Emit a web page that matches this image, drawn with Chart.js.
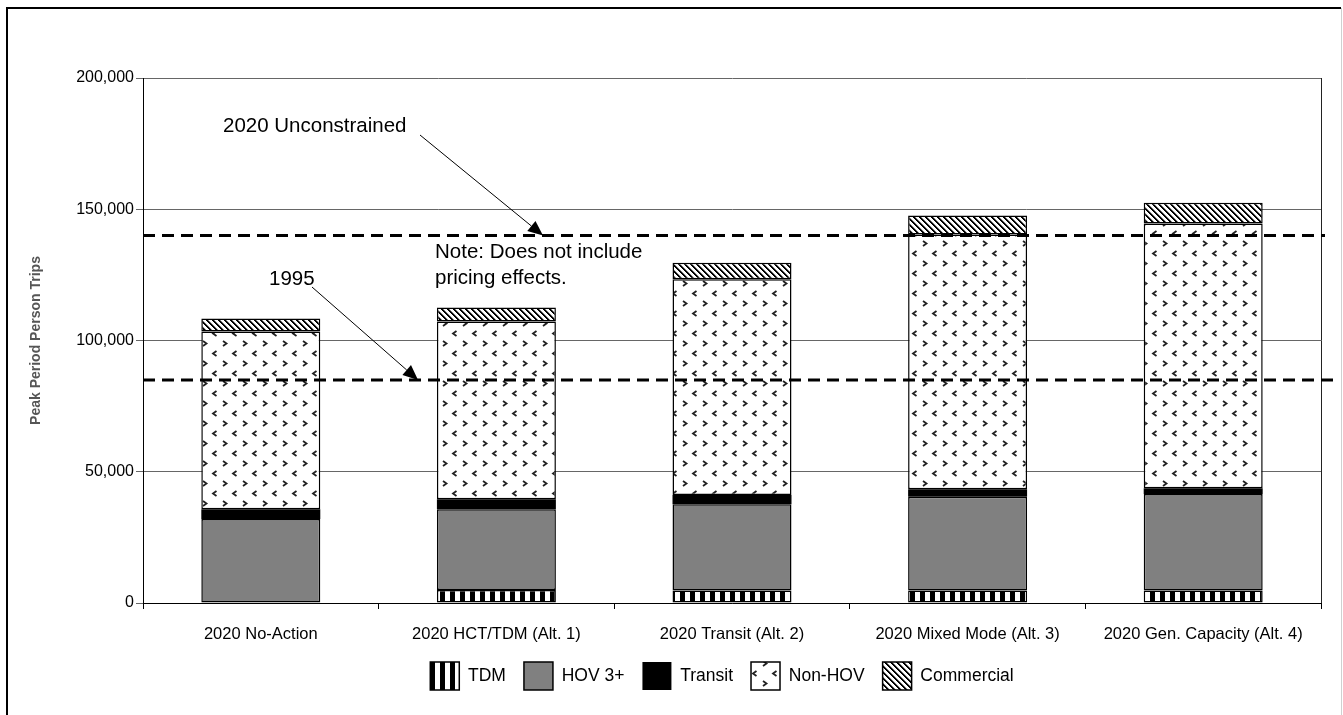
<!DOCTYPE html>
<html>
<head>
<meta charset="utf-8">
<script src="https://cdn.jsdelivr.net/npm/chart.js@4.4.1/dist/chart.umd.min.js"></script>
<style>
  html, body { margin: 0; padding: 0; background: #fff; }
  #wrap { position: relative; width: 1343px; height: 715px; }
</style>
</head>
<body>
<div id="wrap"><canvas id="c" width="1343" height="715"></canvas></div>
<script>
// Peak period person trips by alternative, stacked by mode
const categories = ['2020 No-Action', '2020 HCT/TDM (Alt. 1)', '2020 Transit (Alt. 2)', '2020 Mixed Mode (Alt. 3)', '2020 Gen. Capacity (Alt. 4)'];
const tdm        = [0, 5000, 4800, 4800, 4800];
const hov3       = [32000, 30700, 32800, 35700, 36700];
const transit    = [3700, 3800, 3500, 2800, 2200];
const nonHov     = [67700, 67700, 82200, 97100, 100900];
const commercial = [5000, 5400, 6300, 7200, 7900];
const yTicks     = [0, 50000, 100000, 150000, 200000];

// Reference levels shown as dashed lines
const refNames  = ['2020 Unconstrained', '1995'];
const refLevels = [140000, 85000];
const noteLines = ['Note: Does not include', 'pricing effects.'];

const FONT = "'Liberation Sans', Arial, sans-serif";
const canvas = document.getElementById('c');
const ctx = canvas.getContext('2d');

function tile(w, h, paint) {
  const t = document.createElement('canvas');
  t.width = w; t.height = h;
  const g = t.getContext('2d');
  g.fillStyle = '#fff';
  g.fillRect(0, 0, w, h);
  paint(g);
  return ctx.createPattern(t, 'repeat');
}

// vertical black/white stripes
const tdmFill = tile(10, 10, g => { g.fillStyle = '#000'; g.fillRect(0, 0, 5, 10); });
// scattered small chevrons on white
const nonHovFill = tile(20, 20, g => {
  g.strokeStyle = '#222';
  g.lineWidth = 1.8;
  g.lineJoin = 'miter';
  g.beginPath(); g.moveTo(3, 1); g.lineTo(6.5, 3.5); g.lineTo(3, 6); g.stroke();
  g.beginPath(); g.moveTo(16.5, 11); g.lineTo(13, 13.5); g.lineTo(16.5, 16); g.stroke();
});
// diagonal hatch
const commercialFill = tile(6, 6, g => {
  for (let y = 0; y < 6; y++) {
    g.fillStyle = '#000';
    g.fillRect(y % 6, y, 1, 1);
    g.fillRect((y + 1) % 6, y, 1, 1);
    g.fillStyle = '#888';
    g.fillRect((y + 2) % 6, y, 1, 1);
  }
});

function series(label, data, fill, border) {
  return {
    label, data,
    backgroundColor: fill,
    borderColor: '#000',
    borderWidth: border,
    borderSkipped: false,
    barPercentage: 0.505,
    categoryPercentage: 1.0
  };
}

// nudges the legend row so it sits a little left of the plot centre
const legendNudge = {
  id: 'legendNudge',
  afterLayout(chart) {
    if (chart.legend) chart.legend.left -= 20;
  }
};

const overlay = {
  id: 'overlay',
  afterDatasetsDraw(chart) {
    const { ctx, chartArea: a, scales: { y } } = chart;
    ctx.save();

    // plot-area right border
    ctx.strokeStyle = '#222';
    ctx.lineWidth = 1;
    ctx.beginPath();
    ctx.moveTo(Math.round(a.right) + 0.5, a.top);
    ctx.lineTo(Math.round(a.right) + 0.5, a.bottom);
    ctx.stroke();

    // dashed reference lines
    const ends = [a.right + 4, a.right + 16];
    const ys = refLevels.map(v => y.getPixelForValue(v));
    ctx.strokeStyle = '#000';
    ctx.lineWidth = 3;
    ctx.setLineDash([12, 7]);
    ys.forEach((py, i) => {
      ctx.beginPath();
      ctx.moveTo(a.left, py);
      ctx.lineTo(ends[i], py);
      ctx.stroke();
    });
    ctx.setLineDash([]);

    // callout arrows
    function arrow(x0, y0, x1, y1) {
      ctx.lineWidth = 1;
      ctx.strokeStyle = '#000';
      ctx.fillStyle = '#000';
      const ang = Math.atan2(y1 - y0, x1 - x0);
      const len = 15, half = 6.5;
      const bx = x1 - len * Math.cos(ang), by = y1 - len * Math.sin(ang);
      ctx.beginPath(); ctx.moveTo(x0, y0); ctx.lineTo(bx, by); ctx.stroke();
      ctx.beginPath();
      ctx.moveTo(x1, y1);
      ctx.lineTo(bx + half * Math.sin(ang), by - half * Math.cos(ang));
      ctx.lineTo(bx - half * Math.sin(ang), by + half * Math.cos(ang));
      ctx.closePath(); ctx.fill();
    }
    arrow(420, 135, 543, ys[0]);
    arrow(312, 287, 418, ys[1]);

    ctx.fillStyle = '#000';
    ctx.font = '20.5px ' + FONT;
    ctx.textBaseline = 'middle';
    ctx.textAlign = 'left';
    ctx.fillText(refNames[0], 223, 126);
    ctx.fillText(refNames[1], 269, 279);
    ctx.fillText(noteLines[0], 435, 252);
    ctx.fillText(noteLines[1], 435, 278);

    // outer frame
    ctx.strokeStyle = '#000';
    ctx.lineWidth = 2;
    ctx.beginPath();
    ctx.moveTo(7, 720); ctx.lineTo(7, 8); ctx.lineTo(1341, 8);
    ctx.stroke();
    ctx.strokeStyle = '#d0d0d0';
    ctx.lineWidth = 1;
    ctx.beginPath();
    ctx.moveTo(1341.5, 8); ctx.lineTo(1341.5, 720);
    ctx.stroke();

    ctx.restore();
  }
};

new Chart(ctx, {
  type: 'bar',
  data: {
    labels: categories,
    datasets: [
      series('TDM', tdm, tdmFill, 1.5),
      series('HOV 3+', hov3, '#808080', 1.5),
      series('Transit', transit, '#000', 0),
      series('Non-HOV', nonHov, nonHovFill, 1.5),
      series('Commercial', commercial, commercialFill, 1.5)
    ]
  },
  options: {
    responsive: false,
    animation: false,
    layout: { padding: { left: 0, right: 22, top: 78, bottom: 15 } },
    plugins: {
      tooltip: { enabled: false },
      title: { display: false },
      legend: {
        position: 'bottom',
        fullSize: false,
        labels: {
          boxWidth: 29, boxHeight: 28, padding: 18,
          color: '#000',
          font: { family: FONT, size: 17.5 }
        }
      }
    },
    scales: {
      x: {
        stacked: true,
        grid: { offset: true, drawOnChartArea: false, drawTicks: true, tickLength: 6, color: '#000' },
        border: { color: '#000', width: 1 },
        ticks: { color: '#000', font: { family: FONT, size: 16.5 }, padding: 16, maxRotation: 0, autoSkip: false },
        afterFit: s => { s.height = 41; }
      },
      y: {
        stacked: true,
        min: 0, max: 200000,
        afterBuildTicks: s => { s.ticks = yTicks.map(v => ({ value: v })); },
        ticks: {
          color: '#000',
          font: { family: FONT, size: 16 },
          padding: 2,
          callback: v => v.toLocaleString('en-US')
        },
        grid: { color: '#666', tickLength: 7, lineWidth: 1 },
        border: { color: '#000', width: 1 },
        title: {
          display: true,
          text: 'Peak Period Person Trips',
          color: '#555',
          font: { family: FONT, size: 14, weight: 'bold' },
          padding: { top: 28, bottom: 0 }
        },
        afterFit: s => { s.width = 143; }
      }
    }
  },
  plugins: [legendNudge, overlay]
});
</script>
</body>
</html>
